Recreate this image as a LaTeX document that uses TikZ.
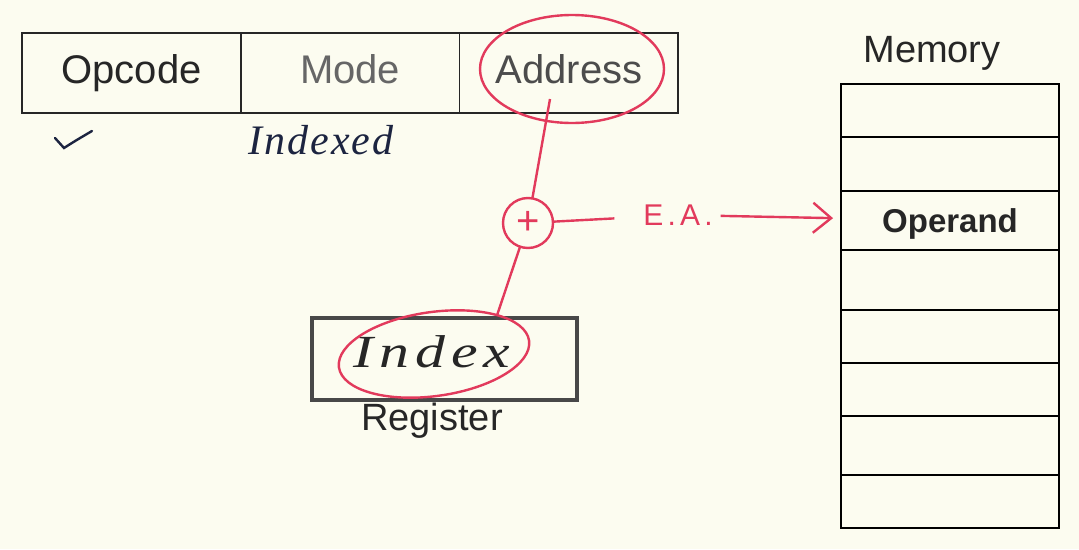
\documentclass[tikz,border=0pt]{standalone}
\usepackage{fontspec}
\setmainfont{Liberation Sans}
\newfontfamily\handfont{Liberation Serif}
\usetikzlibrary{positioning,shapes.geometric,arrows.meta}
\definecolor{paper}{RGB}{252,252,240}
\definecolor{pen}{RGB}{226,58,92}
\definecolor{ink}{RGB}{28,36,64}
\definecolor{boxgray}{RGB}{72,72,72}

\begin{document}
\begin{tikzpicture}[x=1pt, y=-1pt, every node/.style={inner sep=0pt, outer sep=0pt}, field/.style={draw=black!85, line width=1.6pt, minimum width=218.7pt, minimum height=80pt, font=\fontsize{40}{40}\selectfont, text height=29pt, text depth=8pt}, memcell/.style={draw=black, line width=2.4pt, minimum width=218pt}, ring/.style={draw=pen, ellipse, line width=2.4pt}, hand/.style={text=ink}, redline/.style={draw=pen, line width=2.4pt}]
    \fill[paper] (0,0) rectangle (1079,549);
    \useasboundingbox (0,0) rectangle (1079,549);

    \node[field, text=black!85] (opcode) at (131.5,73) {Opcode};
    \node[field, text=black!60, right=0pt of opcode] (mode) {Mode};
    \node[field, text=black!70, right=0pt of mode] (addr) {Address};
    \node[ring, minimum width=184pt, minimum height=108pt] (addrring) at (572,69) {};

    \draw[ink, line width=2.4pt, line cap=round] (55,138) -- (64,148) .. controls (75,141) .. (92,131);
    \node[hand, font=\fontsize{42}{42}\handfont\itshape\addfontfeature{LetterSpace=5}] (indexed) at (321,140) {Indexed};

    \node[draw=boxgray, line width=4pt, minimum width=265pt, minimum height=82pt] (reg) at (444.5,359) {};
    \node[hand, text=black!85, xscale=1.3, font=\fontsize{46}{46}\handfont\itshape\addfontfeature{LetterSpace=10}] (regidx) at (432,351.5) {Index};
    \node[ring, minimum width=192pt, minimum height=84pt, rotate=8] (idxring) at (434,354) {};
    \node[font=\fontsize{38}{38}\selectfont, text=black!85] (reglabel) at (432,421) {Register};

    \node[circle, draw=pen, line width=2.4pt, minimum size=50pt, text=pen, font=\fontsize{40}{40}\selectfont] (plus) at (528,223) {+};
    \node[text=pen, font=\fontsize{30}{30}\selectfont\addfontfeature{LetterSpace=14}] (ea) at (678,215) {E.A.};

    \node[font=\fontsize{38}{38}\selectfont, text=black!85] (memtitle) at (932,53) {Memory};
    \foreach \ya/\yb [count=\i] in {84/137,137/191,191/250,250/310,310/363,363/416,416/475,475/528} {
        \node[memcell, minimum height={(\yb-\ya)*1pt}] (mem\i) at (950,{(\ya+\yb)/2}) {};
    }
    \node[font=\fontsize{33}{33}\selectfont\bfseries, text=black!85] (operand) at (950,224) {Operand};

    \coordinate (addrtail) at (550,99);
    \draw[redline] (addrtail) -- (plus);
    \draw[redline] (plus) -- (idxring.north east);
    \draw[redline, shorten >=29pt] (plus) -- (ea);
    \draw[redline, -{Straight Barb[length=18pt, width=30pt]}, shorten <=8pt, shorten >=8pt] (ea) -- (mem3);
\end{tikzpicture}
\end{document}
